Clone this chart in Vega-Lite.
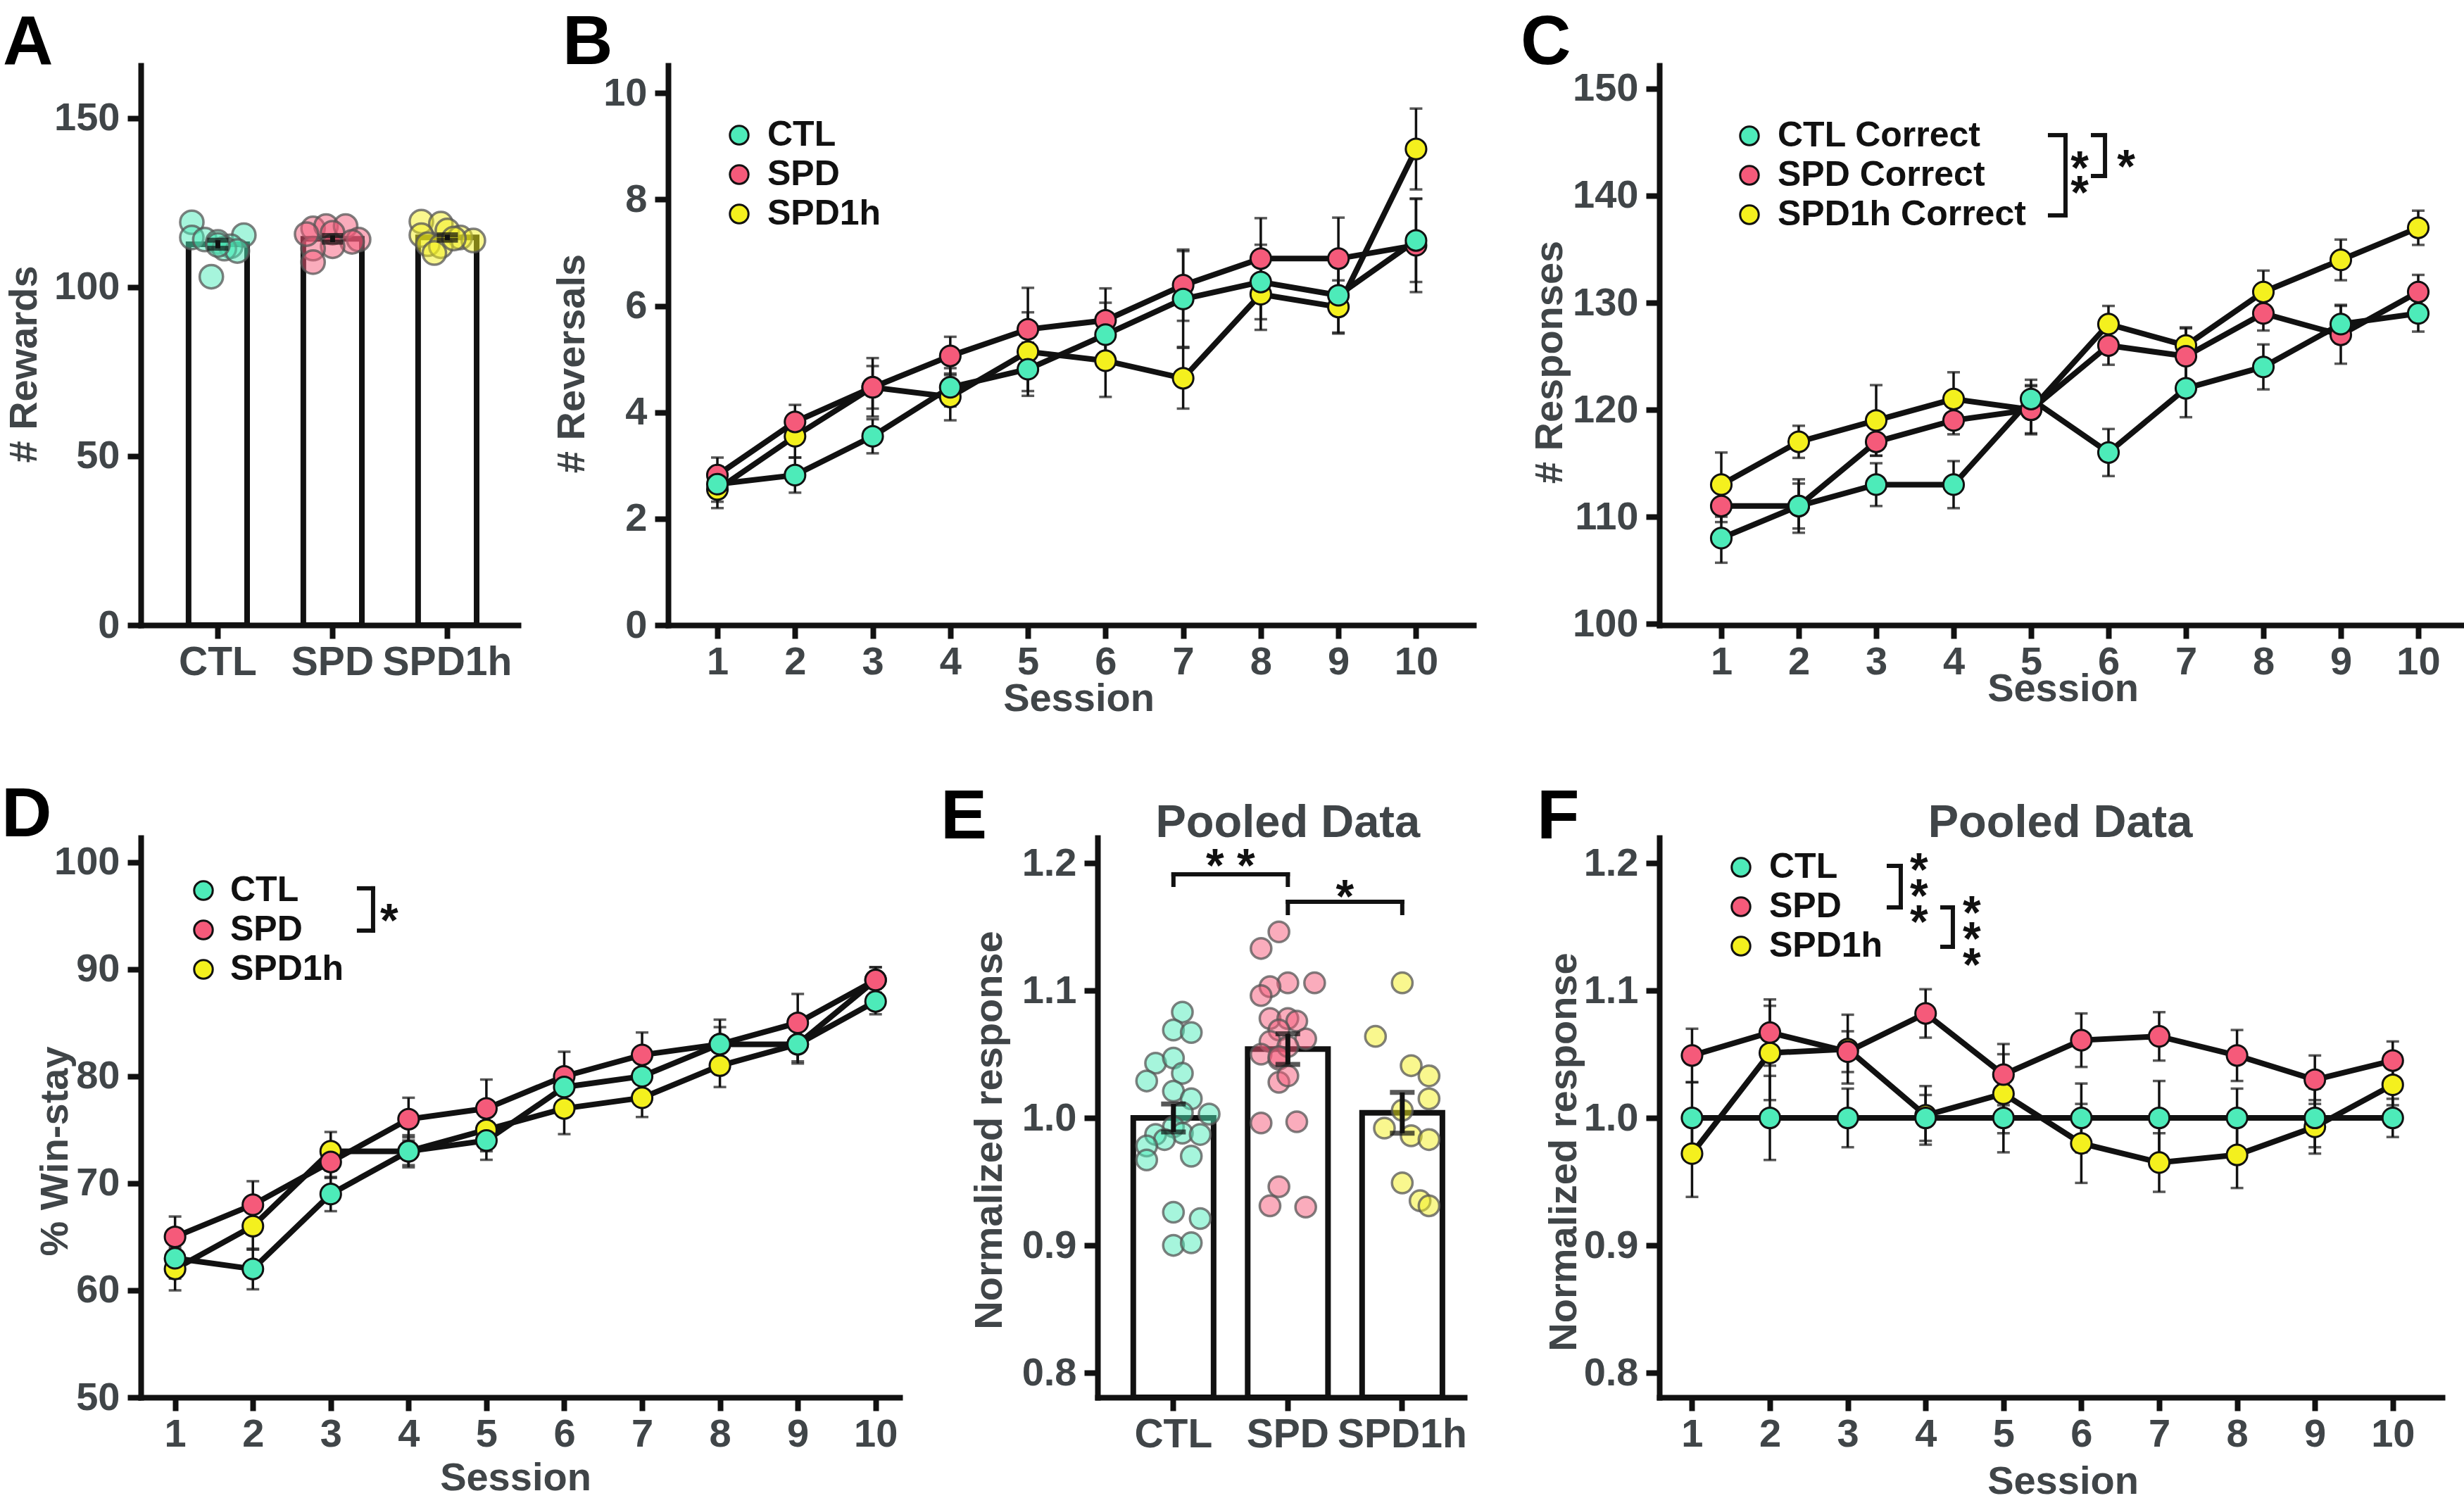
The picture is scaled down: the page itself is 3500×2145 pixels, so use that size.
{
 "$schema": "https://vega.github.io/schema/vega-lite/v6.json",
 "background": "white",
 "padding": {"left": 2, "top": 12, "right": 0, "bottom": 0},
 "bounds": "full",
 "spacing": 89,
 "resolve": {"scale": {"x": "independent", "y": "independent", "fill": "independent", "xOffset": "independent"}, "axis": {"x": "independent", "y": "independent"}, "legend": {"fill": "independent"}},
 "datasets": {
  "aBars": [{"group": "CTL", "mean": 112.7, "sem": 1.2}, {"group": "SPD", "mean": 114.3, "sem": 1.0}, {"group": "SPD1h", "mean": 114.7, "sem": 0.8}],
  "aDots": [
   {"group": "CTL", "value": 119.2, "slot": 1}, {"group": "CTL", "value": 114.7, "slot": 1}, {"group": "CTL", "value": 114.1, "slot": 3}, {"group": "CTL", "value": 113.4, "slot": 5}, {"group": "CTL", "value": 115.4, "slot": 9}, {"group": "CTL", "value": 112.1, "slot": 7}, {"group": "CTL", "value": 111.4, "slot": 6}, {"group": "CTL", "value": 110.7, "slot": 8}, {"group": "CTL", "value": 112.5, "slot": 5}, {"group": "CTL", "value": 103.1, "slot": 4},
   {"group": "SPD", "value": 117.4, "slot": 2}, {"group": "SPD", "value": 118.1, "slot": 4}, {"group": "SPD", "value": 118.1, "slot": 7}, {"group": "SPD", "value": 116.1, "slot": 5}, {"group": "SPD", "value": 114.1, "slot": 9}, {"group": "SPD", "value": 113.4, "slot": 8}, {"group": "SPD", "value": 112.1, "slot": 5}, {"group": "SPD", "value": 111.4, "slot": 2}, {"group": "SPD", "value": 107.4, "slot": 2}, {"group": "SPD", "value": 115.7, "slot": 1},
   {"group": "SPD1h", "value": 119.4, "slot": 1}, {"group": "SPD1h", "value": 118.8, "slot": 4}, {"group": "SPD1h", "value": 116.8, "slot": 5}, {"group": "SPD1h", "value": 115.4, "slot": 1}, {"group": "SPD1h", "value": 114.7, "slot": 7}, {"group": "SPD1h", "value": 113.8, "slot": 9}, {"group": "SPD1h", "value": 112.7, "slot": 2}, {"group": "SPD1h", "value": 112.1, "slot": 4}, {"group": "SPD1h", "value": 110.1, "slot": 3}, {"group": "SPD1h", "value": 114.4, "slot": 6}
  ],
  "dB": [
   {"session": 1, "group": "SPD1h", "mean": 2.55, "sem": 0.35}, {"session": 2, "group": "SPD1h", "mean": 3.55, "sem": 0.4}, {"session": 3, "group": "SPD1h", "mean": 4.47, "sem": 0.55}, {"session": 4, "group": "SPD1h", "mean": 4.29, "sem": 0.44}, {"session": 5, "group": "SPD1h", "mean": 5.14, "sem": 0.74}, {"session": 6, "group": "SPD1h", "mean": 4.97, "sem": 0.68}, {"session": 7, "group": "SPD1h", "mean": 4.64, "sem": 0.57}, {"session": 8, "group": "SPD1h", "mean": 6.22, "sem": 0.67}, {"session": 9, "group": "SPD1h", "mean": 5.98, "sem": 0.5}, {"session": 10, "group": "SPD1h", "mean": 8.95, "sem": 0.76},
   {"session": 1, "group": "SPD", "mean": 2.82, "sem": 0.33}, {"session": 2, "group": "SPD", "mean": 3.82, "sem": 0.32}, {"session": 3, "group": "SPD", "mean": 4.47, "sem": 0.4}, {"session": 4, "group": "SPD", "mean": 5.06, "sem": 0.36}, {"session": 5, "group": "SPD", "mean": 5.56, "sem": 0.78}, {"session": 6, "group": "SPD", "mean": 5.73, "sem": 0.6}, {"session": 7, "group": "SPD", "mean": 6.39, "sem": 0.67}, {"session": 8, "group": "SPD", "mean": 6.89, "sem": 0.76}, {"session": 9, "group": "SPD", "mean": 6.89, "sem": 0.77}, {"session": 10, "group": "SPD", "mean": 7.14, "sem": 0.88},
   {"session": 1, "group": "CTL", "mean": 2.65, "sem": 0.33}, {"session": 2, "group": "CTL", "mean": 2.82, "sem": 0.33}, {"session": 3, "group": "CTL", "mean": 3.55, "sem": 0.32}, {"session": 4, "group": "CTL", "mean": 4.47, "sem": 0.36}, {"session": 5, "group": "CTL", "mean": 4.81, "sem": 0.5}, {"session": 6, "group": "CTL", "mean": 5.46, "sem": 0.6}, {"session": 7, "group": "CTL", "mean": 6.13, "sem": 0.9}, {"session": 8, "group": "CTL", "mean": 6.45, "sem": 0.7}, {"session": 9, "group": "CTL", "mean": 6.2, "sem": 0.7}, {"session": 10, "group": "CTL", "mean": 7.23, "sem": 0.78}
  ],
  "dC": [
   {"session": 1, "group": "SPD1h", "mean": 113, "sem": 3.0}, {"session": 2, "group": "SPD1h", "mean": 117, "sem": 1.5}, {"session": 3, "group": "SPD1h", "mean": 119, "sem": 3.3}, {"session": 4, "group": "SPD1h", "mean": 121, "sem": 2.5}, {"session": 5, "group": "SPD1h", "mean": 120, "sem": 2.3}, {"session": 6, "group": "SPD1h", "mean": 128, "sem": 1.7}, {"session": 7, "group": "SPD1h", "mean": 126, "sem": 1.7}, {"session": 8, "group": "SPD1h", "mean": 131, "sem": 2.0}, {"session": 9, "group": "SPD1h", "mean": 134, "sem": 1.9}, {"session": 10, "group": "SPD1h", "mean": 137, "sem": 1.6},
   {"session": 1, "group": "SPD", "mean": 111, "sem": 1.5}, {"session": 2, "group": "SPD", "mean": 111, "sem": 2.5}, {"session": 3, "group": "SPD", "mean": 117, "sem": 1.3}, {"session": 4, "group": "SPD", "mean": 119, "sem": 1.3}, {"session": 5, "group": "SPD", "mean": 120, "sem": 2.2}, {"session": 6, "group": "SPD", "mean": 126, "sem": 1.8}, {"session": 7, "group": "SPD", "mean": 125, "sem": 2.6}, {"session": 8, "group": "SPD", "mean": 129, "sem": 1.6}, {"session": 9, "group": "SPD", "mean": 127, "sem": 2.7}, {"session": 10, "group": "SPD", "mean": 131, "sem": 1.6},
   {"session": 1, "group": "CTL", "mean": 108, "sem": 2.3}, {"session": 2, "group": "CTL", "mean": 111, "sem": 2.1}, {"session": 3, "group": "CTL", "mean": 113, "sem": 2.0}, {"session": 4, "group": "CTL", "mean": 113, "sem": 2.2}, {"session": 5, "group": "CTL", "mean": 121, "sem": 1.8}, {"session": 6, "group": "CTL", "mean": 116, "sem": 2.2}, {"session": 7, "group": "CTL", "mean": 122, "sem": 2.7}, {"session": 8, "group": "CTL", "mean": 124, "sem": 2.1}, {"session": 9, "group": "CTL", "mean": 128, "sem": 1.8}, {"session": 10, "group": "CTL", "mean": 129, "sem": 1.7}
  ],
  "dD": [
   {"session": 1, "group": "SPD1h", "mean": 62, "sem": 2.0}, {"session": 2, "group": "SPD1h", "mean": 66, "sem": 2.2}, {"session": 3, "group": "SPD1h", "mean": 73, "sem": 1.8}, {"session": 4, "group": "SPD1h", "mean": 73, "sem": 1.5}, {"session": 5, "group": "SPD1h", "mean": 75, "sem": 2.0}, {"session": 6, "group": "SPD1h", "mean": 77, "sem": 2.4}, {"session": 7, "group": "SPD1h", "mean": 78, "sem": 1.8}, {"session": 8, "group": "SPD1h", "mean": 81, "sem": 2.0}, {"session": 9, "group": "SPD1h", "mean": 83, "sem": 1.6}, {"session": 10, "group": "SPD1h", "mean": 89, "sem": 1.2},
   {"session": 1, "group": "SPD", "mean": 65, "sem": 1.9}, {"session": 2, "group": "SPD", "mean": 68, "sem": 2.2}, {"session": 3, "group": "SPD", "mean": 72, "sem": 1.5}, {"session": 4, "group": "SPD", "mean": 76, "sem": 2.0}, {"session": 5, "group": "SPD", "mean": 77, "sem": 2.7}, {"session": 6, "group": "SPD", "mean": 80, "sem": 2.3}, {"session": 7, "group": "SPD", "mean": 82, "sem": 2.1}, {"session": 8, "group": "SPD", "mean": 83, "sem": 2.3}, {"session": 9, "group": "SPD", "mean": 85, "sem": 2.7}, {"session": 10, "group": "SPD", "mean": 89, "sem": 1.2},
   {"session": 1, "group": "CTL", "mean": 63, "sem": 1.9}, {"session": 2, "group": "CTL", "mean": 62, "sem": 1.9}, {"session": 3, "group": "CTL", "mean": 69, "sem": 1.6}, {"session": 4, "group": "CTL", "mean": 73, "sem": 1.3}, {"session": 5, "group": "CTL", "mean": 74, "sem": 1.8}, {"session": 6, "group": "CTL", "mean": 79, "sem": 1.7}, {"session": 7, "group": "CTL", "mean": 80, "sem": 1.7}, {"session": 8, "group": "CTL", "mean": 83, "sem": 1.6}, {"session": 9, "group": "CTL", "mean": 83, "sem": 1.8}, {"session": 10, "group": "CTL", "mean": 87, "sem": 1.2}
  ],
  "eBars": [{"group": "CTL", "mean": 1.0, "sem": 0.011}, {"group": "SPD", "mean": 1.054, "sem": 0.012}, {"group": "SPD1h", "mean": 1.004, "sem": 0.016}],
  "eDots": [
   {"group": "CTL", "value": 1.083, "slot": 6}, {"group": "CTL", "value": 1.069, "slot": 5}, {"group": "CTL", "value": 1.067, "slot": 7}, {"group": "CTL", "value": 1.043, "slot": 3}, {"group": "CTL", "value": 1.047, "slot": 5}, {"group": "CTL", "value": 1.035, "slot": 6}, {"group": "CTL", "value": 1.029, "slot": 2}, {"group": "CTL", "value": 1.021, "slot": 5}, {"group": "CTL", "value": 1.015, "slot": 7}, {"group": "CTL", "value": 1.004, "slot": 6}, {"group": "CTL", "value": 1.003, "slot": 9}, {"group": "CTL", "value": 0.993, "slot": 5}, {"group": "CTL", "value": 0.987, "slot": 3}, {"group": "CTL", "value": 0.988, "slot": 6}, {"group": "CTL", "value": 0.987, "slot": 8}, {"group": "CTL", "value": 0.983, "slot": 4}, {"group": "CTL", "value": 0.978, "slot": 2}, {"group": "CTL", "value": 0.967, "slot": 2}, {"group": "CTL", "value": 0.97, "slot": 7}, {"group": "CTL", "value": 0.926, "slot": 5}, {"group": "CTL", "value": 0.921, "slot": 8}, {"group": "CTL", "value": 0.9, "slot": 5}, {"group": "CTL", "value": 0.902, "slot": 7},
   {"group": "SPD", "value": 1.146, "slot": 4}, {"group": "SPD", "value": 1.133, "slot": 2}, {"group": "SPD", "value": 1.106, "slot": 8}, {"group": "SPD", "value": 1.106, "slot": 5}, {"group": "SPD", "value": 1.103, "slot": 3}, {"group": "SPD", "value": 1.096, "slot": 2}, {"group": "SPD", "value": 1.078, "slot": 3}, {"group": "SPD", "value": 1.078, "slot": 5}, {"group": "SPD", "value": 1.076, "slot": 6}, {"group": "SPD", "value": 1.069, "slot": 4}, {"group": "SPD", "value": 1.062, "slot": 7}, {"group": "SPD", "value": 1.06, "slot": 3}, {"group": "SPD", "value": 1.05, "slot": 2}, {"group": "SPD", "value": 1.046, "slot": 4}, {"group": "SPD", "value": 1.028, "slot": 4}, {"group": "SPD", "value": 1.033, "slot": 5}, {"group": "SPD", "value": 0.996, "slot": 2}, {"group": "SPD", "value": 0.997, "slot": 6}, {"group": "SPD", "value": 0.946, "slot": 4}, {"group": "SPD", "value": 0.931, "slot": 3}, {"group": "SPD", "value": 0.93, "slot": 7}, {"group": "SPD", "value": 1.056, "slot": 5}, {"group": "SPD", "value": 1.048, "slot": 4},
   {"group": "SPD1h", "value": 1.106, "slot": 5}, {"group": "SPD1h", "value": 1.064, "slot": 2}, {"group": "SPD1h", "value": 1.041, "slot": 6}, {"group": "SPD1h", "value": 1.033, "slot": 8}, {"group": "SPD1h", "value": 1.015, "slot": 8}, {"group": "SPD1h", "value": 1.006, "slot": 5}, {"group": "SPD1h", "value": 0.992, "slot": 3}, {"group": "SPD1h", "value": 0.986, "slot": 6}, {"group": "SPD1h", "value": 0.983, "slot": 8}, {"group": "SPD1h", "value": 0.949, "slot": 5}, {"group": "SPD1h", "value": 0.935, "slot": 7}, {"group": "SPD1h", "value": 0.931, "slot": 8}
  ],
  "dF": [
   {"session": 1, "group": "SPD1h", "mean": 0.972, "sem": 0.034}, {"session": 2, "group": "SPD1h", "mean": 1.051, "sem": 0.037}, {"session": 3, "group": "SPD1h", "mean": 1.054, "sem": 0.027}, {"session": 4, "group": "SPD1h", "mean": 1.002, "sem": 0.023}, {"session": 5, "group": "SPD1h", "mean": 1.019, "sem": 0.031}, {"session": 6, "group": "SPD1h", "mean": 0.98, "sem": 0.031}, {"session": 7, "group": "SPD1h", "mean": 0.965, "sem": 0.023}, {"session": 8, "group": "SPD1h", "mean": 0.971, "sem": 0.026}, {"session": 9, "group": "SPD1h", "mean": 0.993, "sem": 0.021}, {"session": 10, "group": "SPD1h", "mean": 1.026, "sem": 0.016},
   {"session": 1, "group": "SPD", "mean": 1.049, "sem": 0.021}, {"session": 2, "group": "SPD", "mean": 1.067, "sem": 0.026}, {"session": 3, "group": "SPD", "mean": 1.052, "sem": 0.016}, {"session": 4, "group": "SPD", "mean": 1.082, "sem": 0.019}, {"session": 5, "group": "SPD", "mean": 1.034, "sem": 0.024}, {"session": 6, "group": "SPD", "mean": 1.061, "sem": 0.021}, {"session": 7, "group": "SPD", "mean": 1.064, "sem": 0.019}, {"session": 8, "group": "SPD", "mean": 1.049, "sem": 0.02}, {"session": 9, "group": "SPD", "mean": 1.03, "sem": 0.019}, {"session": 10, "group": "SPD", "mean": 1.045, "sem": 0.015},
   {"session": 1, "group": "CTL", "mean": 1.0, "sem": 0.028}, {"session": 2, "group": "CTL", "mean": 1.0, "sem": 0.033}, {"session": 3, "group": "CTL", "mean": 1.0, "sem": 0.023}, {"session": 4, "group": "CTL", "mean": 1.0, "sem": 0.018}, {"session": 5, "group": "CTL", "mean": 1.0, "sem": 0.027}, {"session": 6, "group": "CTL", "mean": 1.0, "sem": 0.027}, {"session": 7, "group": "CTL", "mean": 1.0, "sem": 0.029}, {"session": 8, "group": "CTL", "mean": 1.0, "sem": 0.023}, {"session": 9, "group": "CTL", "mean": 1.0, "sem": 0.023}, {"session": 10, "group": "CTL", "mean": 1.0, "sem": 0.015}
  ]
 },
 "vconcat": [
  {
   "bounds": "flush",
   "spacing": 213,
   "resolve": {"scale": {"x": "independent", "y": "independent", "fill": "independent", "xOffset": "independent"}, "axis": {"x": "independent", "y": "independent"}, "legend": {"fill": "independent"}},
   "hconcat": [
    {
     "width": 536, "height": 795,
     "title": {"text": "A", "dx": -196, "dy": 23},
     "resolve": {"scale": {"xOffset": "independent"}},
     "layer": [
      {"data": {"name": "aBars"}, "mark": {"type": "bar", "fill": "white", "stroke": "#111", "strokeWidth": 8},
       "encoding": {
        "x": {"field": "group", "type": "nominal", "scale": {"type": "band", "domain": ["CTL", "SPD", "SPD1h"], "paddingInner": 0.49, "paddingOuter": 0.389, "align": 0.535}, "axis": {"title": null, "labelFontSize": 57}},
        "y": {"field": "mean", "type": "quantitative", "scale": {"domain": [0, 165.6], "nice": false}, "axis": {"values": [0, 50, 100, 150], "format": "d", "title": "# Rewards", "titleX": -166, "titleY": 424, "titleBaseline": "middle"}}
       }},
      {"data": {"name": "aDots"}, "mark": {"type": "circle", "size": 1100, "opacity": 1, "fillOpacity": 0.5, "stroke": "#555", "strokeOpacity": 0.75, "strokeWidth": 3.5},
       "encoding": {
        "x": {"field": "group", "type": "nominal"},
        "xOffset": {"field": "slot", "type": "ordinal", "scale": {"domain": [1, 2, 3, 4, 5, 6, 7, 8, 9]}},
        "y": {"field": "value", "type": "quantitative", "title": "# Rewards"},
        "fill": {"field": "group", "type": "nominal", "scale": {"domain": ["CTL", "SPD", "SPD1h"], "range": ["#4DEBB9", "#F55A7A", "#F4F01E"]}, "legend": null}
       }},
      {"data": {"name": "aBars"}, "mark": {"type": "errorbar", "ticks": {"size": 30, "thickness": 7}, "thickness": 7, "color": "#111"},
       "encoding": {
        "x": {"field": "group", "type": "nominal"},
        "y": {"field": "mean", "type": "quantitative", "title": "# Rewards"},
        "yError": {"field": "sem"}
       }}
     ]
    },
    {
     "width": 1195, "height": 795,
     "title": {"text": "B", "dx": -150, "dy": 23},
     "data": {"name": "dB"},
     "layer": [
      {"mark": {"type": "errorbar", "ticks": {"size": 18, "thickness": 3.5}, "thickness": 3.5, "color": "#111"},
       "encoding": {
        "x": {"field": "session", "type": "quantitative", "title": "Session", "scale": {"domain": [0.365, 10.74], "range": [0, 1144], "nice": false, "zero": false}, "axis": {"values": [1, 2, 3, 4, 5, 6, 7, 8, 9, 10], "format": "d", "title": "Session", "titleX": 583, "titleY": 104, "titleBaseline": "middle"}},
        "y": {"field": "mean", "type": "quantitative", "title": "# Reversals", "scale": {"domain": [0, 10.52], "nice": false}, "axis": {"values": [0, 2, 4, 6, 8, 10], "format": "d", "title": "# Reversals", "titleX": -137, "titleY": 423, "titleBaseline": "middle"}},
        "yError": {"field": "sem"}, "detail": {"field": "group"}}},
      {"mark": {"type": "line", "color": "#111", "strokeWidth": 8},
       "encoding": {"x": {"field": "session", "type": "quantitative", "title": "Session"}, "y": {"field": "mean", "type": "quantitative", "title": "# Reversals"}, "detail": {"field": "group"}}},
      {"mark": {"type": "circle", "size": 850, "opacity": 1, "stroke": "#111", "strokeWidth": 3},
       "encoding": {"x": {"field": "session", "type": "quantitative", "title": "Session"}, "y": {"field": "mean", "type": "quantitative", "title": "# Reversals"},
        "fill": {"field": "group", "type": "nominal", "scale": {"domain": ["CTL", "SPD", "SPD1h"], "range": ["#4DEBB9", "#F55A7A", "#F4F01E"]}, "legend": {"orient": "none", "legendX": 76, "legendY": 74, "title": null}}}}
     ]
    },
    {
     "width": 1144, "height": 795,
     "title": {"text": "C", "dx": -197, "dy": 23},
     "layer": [
      {"data": {"name": "dC"}, "mark": {"type": "errorbar", "ticks": {"size": 18, "thickness": 3.5}, "thickness": 3.5, "color": "#111"},
       "encoding": {
        "x": {"field": "session", "type": "quantitative", "title": "Session", "scale": {"domain": [0.2, 10.6], "nice": false, "zero": false}, "axis": {"values": [1, 2, 3, 4, 5, 6, 7, 8, 9, 10], "format": "d", "title": "Session", "titleX": 573, "titleY": 90, "titleBaseline": "middle"}},
        "y": {"field": "mean", "type": "quantitative", "title": "# Responses", "scale": {"domain": [99.87, 152.17], "nice": false, "zero": false}, "axis": {"values": [100, 110, 120, 130, 140, 150], "format": "d", "title": "# Responses", "titleX": -156, "titleY": 421, "titleBaseline": "middle"}},
        "yError": {"field": "sem"}, "detail": {"field": "group"}}},
      {"data": {"name": "dC"}, "mark": {"type": "line", "color": "#111", "strokeWidth": 8},
       "encoding": {"x": {"field": "session", "type": "quantitative", "title": "Session"}, "y": {"field": "mean", "type": "quantitative", "title": "# Responses"}, "detail": {"field": "group"}}},
      {"data": {"name": "dC"}, "mark": {"type": "circle", "size": 850, "opacity": 1, "stroke": "#111", "strokeWidth": 3},
       "encoding": {"x": {"field": "session", "type": "quantitative", "title": "Session"}, "y": {"field": "mean", "type": "quantitative", "title": "# Responses"},
        "fill": {"field": "group", "type": "nominal", "scale": {"domain": ["CTL", "SPD", "SPD1h"], "range": ["#4DEBB9", "#F55A7A", "#F4F01E"]}, "legend": {"orient": "none", "legendX": 103, "legendY": 75, "title": null, "labelExpr": "datum.label + ' Correct'"}}}},
      {"data": {"values": [{}]}, "mark": {"type": "rule", "color": "#111", "strokeWidth": 6, "strokeCap": "square"}, "encoding": {"x": {"datum": 5.445, "type": "quantitative"}, "y": {"datum": 145.66, "type": "quantitative"}, "y2": {"datum": 138.16}}},
      {"data": {"values": [{}]}, "mark": {"type": "rule", "color": "#111", "strokeWidth": 6, "strokeCap": "square"}, "encoding": {"x": {"datum": 5.245, "type": "quantitative"}, "x2": {"datum": 5.445}, "y": {"datum": 145.66, "type": "quantitative"}}},
      {"data": {"values": [{}]}, "mark": {"type": "rule", "color": "#111", "strokeWidth": 6, "strokeCap": "square"}, "encoding": {"x": {"datum": 5.245, "type": "quantitative"}, "x2": {"datum": 5.445}, "y": {"datum": 138.16, "type": "quantitative"}}},
      {"data": {"values": [{}]}, "mark": {"type": "rule", "color": "#111", "strokeWidth": 6, "strokeCap": "square"}, "encoding": {"x": {"datum": 5.955, "type": "quantitative"}, "y": {"datum": 145.66, "type": "quantitative"}, "y2": {"datum": 141.84}}},
      {"data": {"values": [{}]}, "mark": {"type": "rule", "color": "#111", "strokeWidth": 6, "strokeCap": "square"}, "encoding": {"x": {"datum": 5.8, "type": "quantitative"}, "x2": {"datum": 5.955}, "y": {"datum": 145.66, "type": "quantitative"}}},
      {"data": {"values": [{}]}, "mark": {"type": "rule", "color": "#111", "strokeWidth": 6, "strokeCap": "square"}, "encoding": {"x": {"datum": 5.8, "type": "quantitative"}, "x2": {"datum": 5.955}, "y": {"datum": 141.84, "type": "quantitative"}}},
      {"data": {"values": [{}]}, "mark": {"type": "text", "text": "*", "fontSize": 66, "fontWeight": "bold", "color": "#111", "align": "center", "baseline": "alphabetic"}, "encoding": {"x": {"datum": 5.627, "type": "quantitative"}, "y": {"datum": 141.12, "type": "quantitative"}}},
      {"data": {"values": [{}]}, "mark": {"type": "text", "text": "*", "fontSize": 66, "fontWeight": "bold", "color": "#111", "align": "center", "baseline": "alphabetic"}, "encoding": {"x": {"datum": 5.627, "type": "quantitative"}, "y": {"datum": 138.82, "type": "quantitative"}}},
      {"data": {"values": [{}]}, "mark": {"type": "text", "text": "*", "fontSize": 66, "fontWeight": "bold", "color": "#111", "align": "center", "baseline": "alphabetic"}, "encoding": {"x": {"datum": 6.227, "type": "quantitative"}, "y": {"datum": 141.25, "type": "quantitative"}}}
     ]
    }
   ]
  },
  {
   "bounds": "flush",
   "spacing": 213,
   "resolve": {"scale": {"x": "independent", "y": "independent", "fill": "independent", "xOffset": "independent"}, "axis": {"x": "independent", "y": "independent"}, "legend": {"fill": "independent"}},
   "hconcat": [
    {
     "width": 1146, "height": 795,
     "title": {"text": "D", "dx": -198, "dy": 23},
     "layer": [
      {"data": {"name": "dD"}, "mark": {"type": "errorbar", "ticks": {"size": 18, "thickness": 3.5}, "thickness": 3.5, "color": "#111"},
       "encoding": {
        "x": {"field": "session", "type": "quantitative", "title": "Session", "scale": {"domain": [0.56, 10.31], "range": [0, 1078], "nice": false, "zero": false}, "axis": {"values": [1, 2, 3, 4, 5, 6, 7, 8, 9, 10], "format": "d", "title": "Session", "titleX": 532, "titleY": 114, "titleBaseline": "middle"}},
        "y": {"field": "mean", "type": "quantitative", "title": "% Win-stay", "scale": {"domain": [50, 102.3], "nice": false, "zero": false}, "axis": {"values": [50, 60, 70, 80, 90, 100], "format": "d", "title": "% Win-stay", "titleX": -122, "titleY": 445, "titleBaseline": "middle"}},
        "yError": {"field": "sem"}, "detail": {"field": "group"}}},
      {"data": {"name": "dD"}, "mark": {"type": "line", "color": "#111", "strokeWidth": 8},
       "encoding": {"x": {"field": "session", "type": "quantitative", "title": "Session"}, "y": {"field": "mean", "type": "quantitative", "title": "% Win-stay"}, "detail": {"field": "group"}}},
      {"data": {"name": "dD"}, "mark": {"type": "circle", "size": 850, "opacity": 1, "stroke": "#111", "strokeWidth": 3},
       "encoding": {"x": {"field": "session", "type": "quantitative", "title": "Session"}, "y": {"field": "mean", "type": "quantitative", "title": "% Win-stay"},
        "fill": {"field": "group", "type": "nominal", "scale": {"domain": ["CTL", "SPD", "SPD1h"], "range": ["#4DEBB9", "#F55A7A", "#F4F01E"]}, "legend": {"orient": "none", "legendX": 64, "legendY": 50, "title": null, "labelOffset": 13}}}},
      {"data": {"values": [{}]}, "mark": {"type": "rule", "color": "#111", "strokeWidth": 6, "strokeCap": "square"}, "encoding": {"x": {"datum": 3.544, "type": "quantitative"}, "y": {"datum": 97.57, "type": "quantitative"}, "y2": {"datum": 93.62}}},
      {"data": {"values": [{}]}, "mark": {"type": "rule", "color": "#111", "strokeWidth": 6, "strokeCap": "square"}, "encoding": {"x": {"datum": 3.363, "type": "quantitative"}, "x2": {"datum": 3.544}, "y": {"datum": 97.57, "type": "quantitative"}}},
      {"data": {"values": [{}]}, "mark": {"type": "rule", "color": "#111", "strokeWidth": 6, "strokeCap": "square"}, "encoding": {"x": {"datum": 3.363, "type": "quantitative"}, "x2": {"datum": 3.544}, "y": {"datum": 93.62, "type": "quantitative"}}},
      {"data": {"values": [{}]}, "mark": {"type": "text", "text": "*", "fontSize": 66, "fontWeight": "bold", "color": "#111", "align": "center", "baseline": "alphabetic"}, "encoding": {"x": {"datum": 3.752, "type": "quantitative"}, "y": {"datum": 93.09, "type": "quantitative"}}}
     ]
    },
    {
     "width": 585, "height": 795,
     "title": {"text": "E", "dx": -223, "dy": 79},
     "resolve": {"scale": {"xOffset": "independent"}},
     "layer": [
      {"data": {"name": "eBars"}, "mark": {"type": "bar", "fill": "white", "stroke": "#111", "strokeWidth": 8},
       "encoding": {
        "x": {"field": "group", "type": "nominal", "scale": {"type": "band", "domain": ["CTL", "SPD", "SPD1h"], "range": [0, 521], "paddingInner": 0.298, "paddingOuter": 0.252, "align": 0.62}, "axis": {"title": null, "labelFontSize": 57}},
        "y": {"field": "mean", "type": "quantitative", "scale": {"domain": [0.7807, 1.2199], "nice": false, "zero": false}, "axis": {"values": [0.8, 0.9, 1.0, 1.1, 1.2], "format": ".1f", "title": "Normalized response", "titleX": -154, "titleY": 415, "titleBaseline": "middle"}},
        "y2": {"datum": 0.7807}
       }},
      {"data": {"name": "eDots"}, "mark": {"type": "circle", "size": 850, "opacity": 1, "fillOpacity": 0.5, "stroke": "#555", "strokeOpacity": 0.75, "strokeWidth": 3.5},
       "encoding": {
        "x": {"field": "group", "type": "nominal"},
        "xOffset": {"field": "slot", "type": "ordinal", "scale": {"domain": [1, 2, 3, 4, 5, 6, 7, 8, 9]}},
        "y": {"field": "value", "type": "quantitative", "title": "Normalized response"},
        "fill": {"field": "group", "type": "nominal", "scale": {"domain": ["CTL", "SPD", "SPD1h"], "range": ["#4DEBB9", "#F55A7A", "#F4F01E"]}, "legend": null}
       }},
      {"data": {"name": "eBars"}, "mark": {"type": "errorbar", "ticks": {"size": 35, "thickness": 7}, "thickness": 7, "color": "#111"},
       "encoding": {
        "x": {"field": "group", "type": "nominal"},
        "y": {"field": "mean", "type": "quantitative", "title": "Normalized response"},
        "yError": {"field": "sem"}
       }},
      {"data": {"values": [{}]}, "mark": {"type": "rule", "color": "#111", "strokeWidth": 6, "strokeCap": "square"}, "encoding": {"x": {"datum": "CTL", "type": "nominal"}, "x2": {"datum": "SPD"}, "y": {"datum": 1.1912, "type": "quantitative"}}},
      {"data": {"values": [{}]}, "mark": {"type": "rule", "color": "#111", "strokeWidth": 6, "strokeCap": "square"}, "encoding": {"x": {"datum": "CTL", "type": "nominal"}, "y": {"datum": 1.1912, "type": "quantitative"}, "y2": {"datum": 1.1829}}},
      {"data": {"values": [{}]}, "mark": {"type": "rule", "color": "#111", "strokeWidth": 6, "strokeCap": "square"}, "encoding": {"x": {"datum": "SPD", "type": "nominal"}, "y": {"datum": 1.1912, "type": "quantitative"}, "y2": {"datum": 1.1829}}},
      {"data": {"values": [{}]}, "mark": {"type": "rule", "color": "#111", "strokeWidth": 6, "strokeCap": "square"}, "encoding": {"x": {"datum": "SPD", "type": "nominal"}, "x2": {"datum": "SPD1h"}, "y": {"datum": 1.1696, "type": "quantitative"}}},
      {"data": {"values": [{}]}, "mark": {"type": "rule", "color": "#111", "strokeWidth": 6, "strokeCap": "square"}, "encoding": {"x": {"datum": "SPD", "type": "nominal"}, "y": {"datum": 1.1696, "type": "quantitative"}, "y2": {"datum": 1.1608}}},
      {"data": {"values": [{}]}, "mark": {"type": "rule", "color": "#111", "strokeWidth": 6, "strokeCap": "square"}, "encoding": {"x": {"datum": "SPD1h", "type": "nominal"}, "y": {"datum": 1.1696, "type": "quantitative"}, "y2": {"datum": 1.1608}}},
      {"data": {"values": [{}]}, "mark": {"type": "text", "text": "* *", "dx": 81, "fontSize": 66, "fontWeight": "bold", "color": "#111", "align": "center", "baseline": "alphabetic"}, "encoding": {"x": {"datum": "CTL", "type": "nominal"}, "y": {"datum": 1.1857, "type": "quantitative"}}},
      {"data": {"values": [{}]}, "mark": {"type": "text", "text": "*", "dx": 81, "fontSize": 66, "fontWeight": "bold", "color": "#111", "align": "center", "baseline": "alphabetic"}, "encoding": {"x": {"datum": "SPD", "type": "nominal"}, "y": {"datum": 1.1614, "type": "quantitative"}}},
      {"data": {"values": [{}]}, "mark": {"type": "text", "text": "Pooled Data", "fontSize": 65, "fontWeight": "bold", "color": "#404548", "align": "center", "baseline": "alphabetic"}, "encoding": {"x": {"datum": "SPD", "type": "nominal"}, "y": {"datum": 1.2205, "type": "quantitative"}}}
     ]
    },
    {
     "width": 1112, "height": 795,
     "title": {"text": "F", "dx": -174, "dy": 79},
     "layer": [
      {"data": {"name": "dF"}, "mark": {"type": "errorbar", "ticks": {"size": 18, "thickness": 3.5}, "thickness": 3.5, "color": "#111"},
       "encoding": {
        "x": {"field": "session", "type": "quantitative", "title": "Session", "scale": {"domain": [0.58, 10.635], "nice": false, "zero": false}, "axis": {"values": [1, 2, 3, 4, 5, 6, 7, 8, 9, 10], "format": "d", "title": "Session", "titleX": 573, "titleY": 119, "titleBaseline": "middle"}},
        "y": {"field": "mean", "type": "quantitative", "title": "Normalized response", "scale": {"domain": [0.7807, 1.2199], "nice": false, "zero": false}, "axis": {"values": [0.8, 0.9, 1.0, 1.1, 1.2], "format": ".1f", "title": "Normalized response", "titleX": -136, "titleY": 446, "titleBaseline": "middle"}},
        "yError": {"field": "sem"}, "detail": {"field": "group"}}},
      {"data": {"name": "dF"}, "mark": {"type": "line", "color": "#111", "strokeWidth": 8},
       "encoding": {"x": {"field": "session", "type": "quantitative", "title": "Session"}, "y": {"field": "mean", "type": "quantitative", "title": "Normalized response"}, "detail": {"field": "group"}}},
      {"data": {"name": "dF"}, "mark": {"type": "circle", "size": 850, "opacity": 1, "stroke": "#111", "strokeWidth": 3},
       "encoding": {"x": {"field": "session", "type": "quantitative", "title": "Session"}, "y": {"field": "mean", "type": "quantitative", "title": "Normalized response"},
        "fill": {"field": "group", "type": "nominal", "scale": {"domain": ["CTL", "SPD", "SPD1h"], "range": ["#4DEBB9", "#F55A7A", "#F4F01E"]}, "legend": {"orient": "none", "legendX": 91, "legendY": 17, "title": null, "labelOffset": 15}}}},
      {"data": {"values": [{}]}, "mark": {"type": "rule", "color": "#111", "strokeWidth": 6, "strokeCap": "square"}, "encoding": {"x": {"datum": 3.681, "type": "quantitative"}, "y": {"datum": 1.1978, "type": "quantitative"}, "y2": {"datum": 1.1652}}},
      {"data": {"values": [{}]}, "mark": {"type": "rule", "color": "#111", "strokeWidth": 6, "strokeCap": "square"}, "encoding": {"x": {"datum": 3.528, "type": "quantitative"}, "x2": {"datum": 3.681}, "y": {"datum": 1.1978, "type": "quantitative"}}},
      {"data": {"values": [{}]}, "mark": {"type": "rule", "color": "#111", "strokeWidth": 6, "strokeCap": "square"}, "encoding": {"x": {"datum": 3.528, "type": "quantitative"}, "x2": {"datum": 3.681}, "y": {"datum": 1.1652, "type": "quantitative"}}},
      {"data": {"values": [{}]}, "mark": {"type": "rule", "color": "#111", "strokeWidth": 6, "strokeCap": "square"}, "encoding": {"x": {"datum": 4.35, "type": "quantitative"}, "y": {"datum": 1.1652, "type": "quantitative"}, "y2": {"datum": 1.1343}}},
      {"data": {"values": [{}]}, "mark": {"type": "rule", "color": "#111", "strokeWidth": 6, "strokeCap": "square"}, "encoding": {"x": {"datum": 4.215, "type": "quantitative"}, "x2": {"datum": 4.35}, "y": {"datum": 1.1652, "type": "quantitative"}}},
      {"data": {"values": [{}]}, "mark": {"type": "rule", "color": "#111", "strokeWidth": 6, "strokeCap": "square"}, "encoding": {"x": {"datum": 4.215, "type": "quantitative"}, "x2": {"datum": 4.35}, "y": {"datum": 1.1343, "type": "quantitative"}}},
      {"data": {"values": [{}]}, "mark": {"type": "text", "text": "*", "fontSize": 66, "fontWeight": "bold", "color": "#111", "align": "center", "baseline": "alphabetic"}, "encoding": {"x": {"datum": 3.916, "type": "quantitative"}, "y": {"datum": 1.1825, "type": "quantitative"}}},
      {"data": {"values": [{}]}, "mark": {"type": "text", "text": "*", "fontSize": 66, "fontWeight": "bold", "color": "#111", "align": "center", "baseline": "alphabetic"}, "encoding": {"x": {"datum": 3.916, "type": "quantitative"}, "y": {"datum": 1.162, "type": "quantitative"}}},
      {"data": {"values": [{}]}, "mark": {"type": "text", "text": "*", "fontSize": 66, "fontWeight": "bold", "color": "#111", "align": "center", "baseline": "alphabetic"}, "encoding": {"x": {"datum": 3.916, "type": "quantitative"}, "y": {"datum": 1.1416, "type": "quantitative"}}},
      {"data": {"values": [{}]}, "mark": {"type": "text", "text": "*", "fontSize": 66, "fontWeight": "bold", "color": "#111", "align": "center", "baseline": "alphabetic"}, "encoding": {"x": {"datum": 4.594, "type": "quantitative"}, "y": {"datum": 1.1487, "type": "quantitative"}}},
      {"data": {"values": [{}]}, "mark": {"type": "text", "text": "*", "fontSize": 66, "fontWeight": "bold", "color": "#111", "align": "center", "baseline": "alphabetic"}, "encoding": {"x": {"datum": 4.594, "type": "quantitative"}, "y": {"datum": 1.1283, "type": "quantitative"}}},
      {"data": {"values": [{}]}, "mark": {"type": "text", "text": "*", "fontSize": 66, "fontWeight": "bold", "color": "#111", "align": "center", "baseline": "alphabetic"}, "encoding": {"x": {"datum": 4.594, "type": "quantitative"}, "y": {"datum": 1.1078, "type": "quantitative"}}},
      {"data": {"values": [{}]}, "mark": {"type": "text", "text": "Pooled Data", "fontSize": 65, "fontWeight": "bold", "color": "#404548", "align": "center", "baseline": "alphabetic"}, "encoding": {"x": {"datum": 5.73, "type": "quantitative"}, "y": {"datum": 1.2205, "type": "quantitative"}}}
     ]
    }
   ]
  }
 ],
 "config": {
  "view": {"stroke": null},
  "font": "Liberation Sans",
  "axis": {"domainColor": "#111", "domainWidth": 8, "domainCap": "square", "tickColor": "#111", "tickWidth": 8, "tickSize": 19, "labelFont": "Liberation Sans", "labelFontWeight": "bold", "labelFontSize": 56, "labelColor": "#404548", "labelLimit": 0, "titleFont": "Liberation Sans", "titleFontWeight": "bold", "titleFontSize": 56, "titleColor": "#404548", "titleLimit": 0, "grid": false, "labelOverlap": false, "labelFlush": false, "labelBound": false},
  "axisX": {"labelPadding": 6, "labelAngle": 0},
  "axisY": {"labelPadding": 11},
  "legend": {"symbolType": "circle", "symbolSize": 700, "symbolStrokeColor": "#111", "symbolStrokeWidth": 3, "symbolOpacity": 1, "labelFont": "Liberation Sans", "labelFontWeight": "bold", "labelFontSize": 50, "labelColor": "#111", "labelLimit": 0, "rowPadding": 6, "labelOffset": 15, "padding": 0},
  "title": {"anchor": "start", "frame": "group", "offset": 0, "fontSize": 99, "font": "Liberation Sans", "fontWeight": "bold", "color": "#000", "baseline": "alphabetic"},
  "text": {"font": "Liberation Sans"}
 }
}
